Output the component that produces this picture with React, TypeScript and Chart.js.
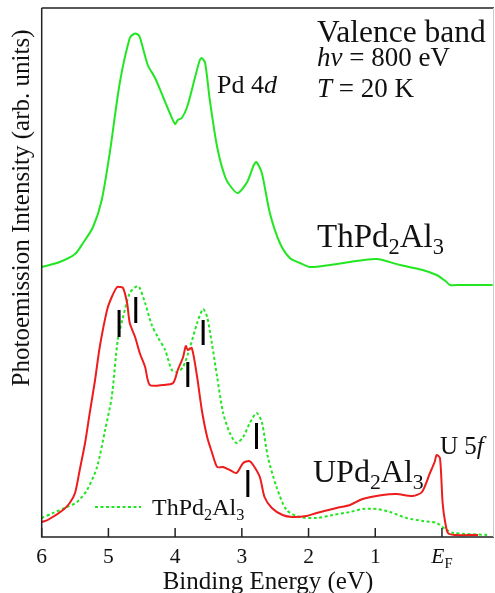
import React, { useEffect, useRef } from "react";
import { Chart, registerables } from "chart.js";

Chart.register(...registerables);

// ThPd2Al3 spectrum (upper, offset)
const thTopE = [6.0, 5.73, 5.5, 5.38, 5.23, 5.1, 4.98, 4.83, 4.68, 4.62, 4.57, 4.53, 4.41, 4.3, 4.18, 4.08, 4.0, 3.96, 3.9, 3.82, 3.7, 3.63, 3.6, 3.55, 3.48, 3.37, 3.25, 3.15, 3.06, 2.92, 2.82, 2.78, 2.7, 2.58, 2.43, 2.28, 2.13, 1.98, 1.68, 1.38, 0.98, 0.63, 0.29, 0.08, -0.01, -0.07, -0.12, -0.27, -0.76];
const thTopI = [269, 274, 282, 293, 309, 336, 383, 453, 498, 502, 502, 499, 471, 458, 439, 423, 412, 416, 418, 429, 459, 476, 478, 473, 436, 389, 359, 348, 343, 354, 371, 374, 363, 323, 293, 278, 273, 269, 271, 274, 277, 271, 266, 261, 257, 254, 251, 251, 251];

// UPd2Al3 spectrum
const uE = [6.0, 5.91, 5.68, 5.58, 5.5, 5.43, 5.35, 5.28, 5.2, 5.13, 5.02, 4.95, 4.87, 4.83, 4.78, 4.72, 4.68, 4.6, 4.53, 4.45, 4.38, 4.18, 4.03, 3.96, 3.88, 3.84, 3.81, 3.75, 3.67, 3.6, 3.52, 3.45, 3.37, 3.28, 3.18, 3.08, 2.98, 2.89, 2.83, 2.73, 2.66, 2.55, 2.39, 2.24, 2.03, 1.88, 1.58, 1.38, 1.19, 0.89, 0.68, 0.44, 0.3, 0.18, 0.11, 0.08, 0.03, -0.01, -0.05, -0.09, -0.19, -0.54];
const uI = [14, 16, 26, 33, 43, 66, 93, 123, 156, 189, 226, 239, 249, 249, 248, 233, 213, 199, 183, 169, 151, 151, 153, 166, 179, 190, 186, 188, 159, 126, 99, 84, 69, 69, 66, 63, 73, 75, 71, 59, 39, 28, 21, 19, 20, 23, 28, 31, 37, 41, 42, 40, 44, 63, 74, 81, 78, 33, 13, 3, 1, 1];

// ThPd2Al3 spectrum (lower, for comparison)
const thBotE = [6.0, 5.83, 5.62, 5.47, 5.32, 5.17, 5.05, 4.95, 4.86, 4.78, 4.68, 4.57, 4.53, 4.45, 4.35, 4.26, 4.15, 4.05, 3.97, 3.88, 3.78, 3.67, 3.58, 3.52, 3.45, 3.37, 3.28, 3.18, 3.08, 2.98, 2.88, 2.78, 2.7, 2.61, 2.48, 2.33, 2.13, 1.88, 1.64, 1.38, 1.19, 0.98, 0.78, 0.53, 0.29, 0.08, -0.07, -0.17, -0.68];
const thBotI = [18, 23, 29, 34, 46, 69, 106, 139, 196, 219, 243, 250, 248, 233, 211, 199, 186, 166, 164, 169, 188, 213, 227, 219, 193, 159, 123, 103, 93, 99, 113, 123, 114, 79, 49, 26, 19, 18, 21, 24, 27, 27, 24, 18, 15, 13, 6, 3, 1];

// Peak markers (vertical bars)
const markE = [4.84, 4.59, 3.81, 3.58, 2.91, 2.78];
const markLo = [199, 213, 149, 191, 39, 87];
const markHi = [226, 239, 174, 216, 66, 113];

// X-axis ticks
const tickVals = [6, 5, 4, 3, 2, 1, 0];
const tickLabels = ["6", "5", "4", "3", "2", "1", "EF"];

const FONT = "'Liberation Serif', 'Times New Roman', serif";
const GREEN = "#22e622";
const RED = "#ee1c1c";

type Seg = { t: string; it?: boolean; sub?: boolean };

function drawRich(ctx: CanvasRenderingContext2D, segs: Seg[], x: number, y: number, size: number, align: "left" | "center" = "left") {
  const setFont = (s: Seg) => {
    const fs = s.sub ? size * 0.68 : size;
    ctx.font = `${s.it ? "italic " : ""}${fs}px ${FONT}`;
  };
  let total = 0;
  segs.forEach((s) => {
    setFont(s);
    total += ctx.measureText(s.t).width;
  });
  let cx = align === "center" ? x - total / 2 : x;
  segs.forEach((s) => {
    setFont(s);
    ctx.textAlign = "left";
    ctx.textBaseline = "alphabetic";
    ctx.fillText(s.t, cx, s.sub ? y + size * 0.22 : y);
    cx += ctx.measureText(s.t).width;
  });
}

const decor = {
  id: "decor",
  afterDraw(chart: any) {
    const ctx: CanvasRenderingContext2D = chart.ctx;
    const { left, right, top, bottom } = chart.chartArea;
    const xs = chart.scales.x;
    ctx.save();
    // frame
    ctx.strokeStyle = "#222";
    ctx.lineWidth = 1.5;
    ctx.beginPath();
    ctx.moveTo(left, top);
    ctx.lineTo(left, bottom);
    ctx.lineTo(right, bottom);
    ctx.moveTo(left, top);
    ctx.lineTo(right, top);
    ctx.stroke();
    ctx.strokeStyle = "#ccc";
    ctx.lineWidth = 1;
    ctx.beginPath();
    ctx.moveTo(right - 0.5, top);
    ctx.lineTo(right - 0.5, bottom);
    ctx.stroke();
    // ticks
    ctx.strokeStyle = "#222";
    ctx.lineWidth = 1.5;
    tickVals.forEach((v) => {
      const px = xs.getPixelForValue(v);
      ctx.beginPath();
      ctx.moveTo(px, bottom);
      ctx.lineTo(px, bottom - 9);
      ctx.stroke();
    });
    ctx.fillStyle = "#111";
    tickVals.forEach((v, i) => {
      const px = xs.getPixelForValue(v);
      const lab = tickLabels[i];
      if (lab === "EF") {
        drawRich(ctx, [{ t: "E", it: true }, { t: "F", sub: true }], px, 563, 21.5, "center");
      } else {
        drawRich(ctx, [{ t: lab }], px, 563, 21.5, "center");
      }
    });
    // axis titles
    drawRich(ctx, [{ t: "Binding Energy (eV)" }], 268, 589, 25, "center");
    ctx.save();
    ctx.translate(29, 208);
    ctx.rotate(-Math.PI / 2);
    drawRich(ctx, [{ t: "Photoemission Intensity (arb. units)" }], 0, 0, 25, "center");
    ctx.restore();
    // annotations
    drawRich(ctx, [{ t: "Valence band" }], 317, 42, 31.5);
    drawRich(ctx, [{ t: "hν", it: true }, { t: " = 800 eV" }], 317, 66, 27);
    drawRich(ctx, [{ t: "T", it: true }, { t: " = 20 K" }], 317, 97, 27);
    drawRich(ctx, [{ t: "Pd 4" }, { t: "d", it: true }], 217, 93, 26);
    drawRich(ctx, [{ t: "ThPd" }, { t: "2", sub: true }, { t: "Al" }, { t: "3", sub: true }], 317, 247, 33);
    drawRich(ctx, [{ t: "UPd" }, { t: "2", sub: true }, { t: "Al" }, { t: "3", sub: true }], 313, 482, 32);
    drawRich(ctx, [{ t: "U 5" }, { t: "f", it: true }], 440, 454, 25);
    // legend
    ctx.strokeStyle = GREEN;
    ctx.lineWidth = 2;
    ctx.setLineDash([3, 2.5]);
    ctx.beginPath();
    ctx.moveTo(95, 507);
    ctx.lineTo(141, 507);
    ctx.stroke();
    ctx.setLineDash([]);
    drawRich(ctx, [{ t: "ThPd" }, { t: "2", sub: true }, { t: "Al" }, { t: "3", sub: true }], 152, 515, 24);
    ctx.restore();
  },
};

function pts(xs: number[], ys: number[]) {
  return xs.map((x, i) => ({ x, y: ys[i] }));
}

export default function App() {
  const ref = useRef<HTMLCanvasElement | null>(null);
  useEffect(() => {
    document.body.style.margin = "0";
    const canvas = ref.current!;
    const markSets = markE.map((e, i) => ({
      data: [
        { x: e, y: markLo[i] },
        { x: e, y: markHi[i] },
      ],
      borderColor: "#000",
      borderWidth: 3,
      pointRadius: 0,
      borderCapStyle: "butt" as const,
      order: 0,
    }));
    const chart = new Chart(canvas, {
      type: "line",
      data: {
        datasets: [
          ...markSets,
          { data: pts(uE, uI), borderColor: RED, borderWidth: 2, pointRadius: 0, tension: 0.25, order: 1 },
          { data: pts(thBotE, thBotI), borderColor: GREEN, borderWidth: 2, borderDash: [3, 2.5], pointRadius: 0, tension: 0.25, order: 2 },
          { data: pts(thTopE, thTopI), borderColor: GREEN, borderWidth: 2, pointRadius: 0, tension: 0.25, order: 3 },
        ],
      },
      options: {
        animation: false,
        responsive: false,
        devicePixelRatio: 1,
        layout: { padding: { left: 41.7, top: 8, right: 1, bottom: 56 } },
        plugins: { legend: { display: false }, tooltip: { enabled: false } },
        scales: {
          x: { type: "linear", reverse: true, min: -0.78, max: 6, display: false },
          y: { type: "linear", min: -1, max: 528, display: false },
        },
      },
      plugins: [decor],
    });
    return () => chart.destroy();
  }, []);
  return (
    <div style={{ width: 495, height: 593 }}>
      <canvas ref={ref} width={495} height={593} />
    </div>
  );
}
